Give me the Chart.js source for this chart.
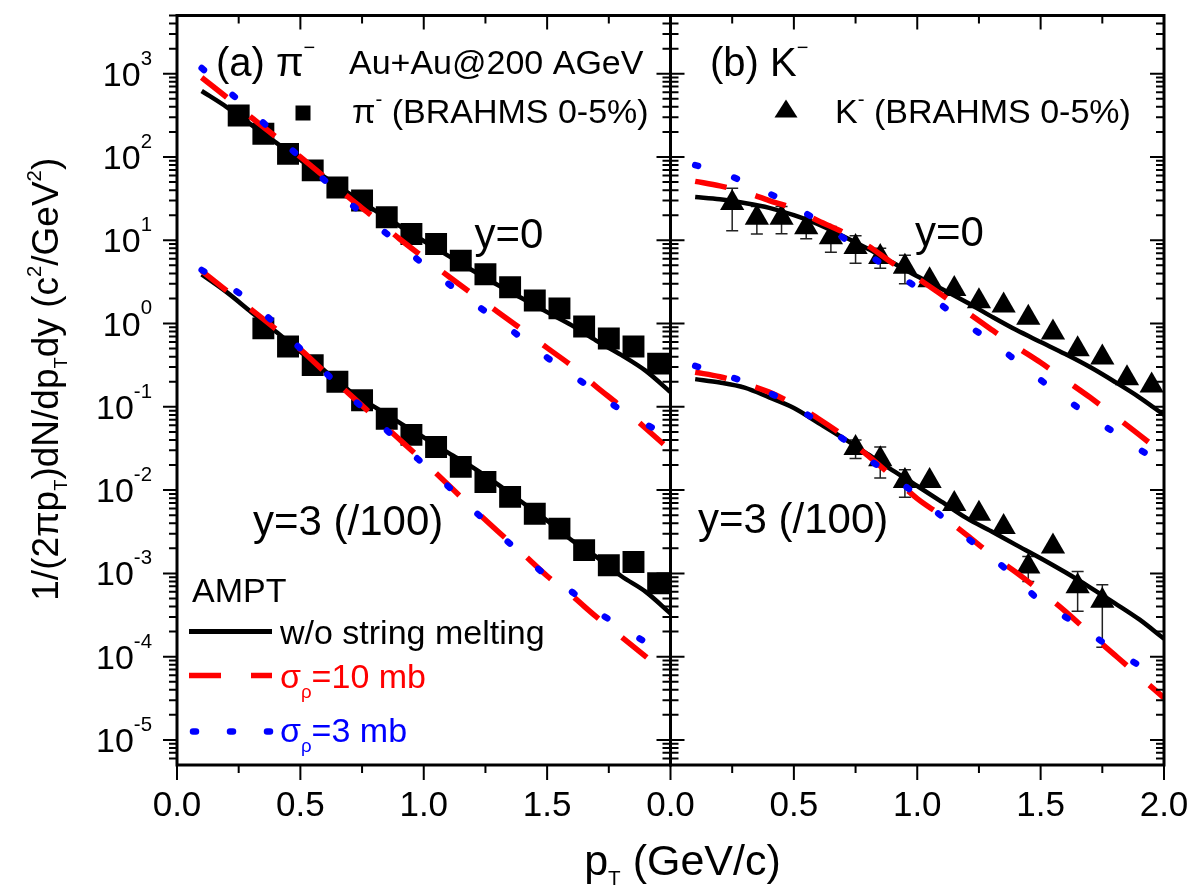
<!DOCTYPE html>
<html>
<head>
<meta charset="utf-8">
<script src="https://cdn.jsdelivr.net/npm/chart.js@4/dist/chart.umd.min.js"></script>
<style>
  html, body { margin: 0; padding: 0; background: #fff; }
  canvas { display: block; }
</style>
</head>
<body>
<canvas id="canvas1" width="1193" height="886"></canvas>
<script>
// axis ranges and tick labels
var xMin = 0, xMax = 2;
var yMin = 5e-6, yMax = 5e3;
var xTickVals = [0, 0.5, 1, 1.5, 2];
var xMinorStep = 0.25;
var yDecades = [-5, -4, -3, -2, -1, 0, 1, 2, 3];

// pT grid of the AMPT curves (GeV/c)
var modelPt = [0.1, 0.2, 0.3, 0.4, 0.5, 0.6, 0.7, 0.8, 0.9, 1.0, 1.1, 1.2, 1.3, 1.4, 1.5, 1.6, 1.7, 1.8, 1.9, 2.0];

// (a) pi-, y=0
var piAmpt0 = [620, 400, 245, 150, 92, 57, 36, 23, 15, 9.8, 6.5, 4.3, 2.9, 2.0, 1.37, 0.95, 0.62, 0.42, 0.27, 0.15];
var piS10_0 = [900, 525, 300, 175, 100, 57, 32, 18.6, 10.5, 6.2, 3.7, 2.24, 1.38, 0.84, 0.51, 0.31, 0.174, 0.1, 0.055, 0.030];
var piS3_0 = [1170, 645, 355, 186, 98, 52, 28, 15.8, 9.1, 5.1, 3.0, 1.78, 1.1, 0.66, 0.39, 0.245, 0.148, 0.091, 0.062, 0.043];
var piPt0 = [0.25, 0.35, 0.45, 0.55, 0.65, 0.75, 0.85, 0.95, 1.05, 1.15, 1.25, 1.35, 1.45, 1.55, 1.65, 1.75, 1.85, 1.95];
var piData0 = [315, 190, 109, 69, 43, 30, 18.9, 11.9, 9.0, 5.7, 3.9, 2.73, 1.89, 1.52, 0.92, 0.66, 0.53, 0.33];

// (a) pi-, y=3 (/100)
var piAmpt3 = [3.9, 2.4, 1.38, 0.8, 0.46, 0.27, 0.155, 0.1, 0.065, 0.043, 0.028, 0.0186, 0.0117, 0.0071, 0.0043, 0.0025, 0.00158, 9.3e-4, 6.0e-4, 3.3e-4];
var piS10_3 = [4.3, 2.5, 1.48, 0.86, 0.49, 0.26, 0.141, 0.076, 0.041, 0.022, 0.0115, 0.006, 0.0032, 0.00174, 9.3e-4, 5.4e-4, 3.0e-4, 1.74e-4, 1.0e-4, 5.7e-5];
var piS3_3 = [4.4, 2.95, 1.8, 0.98, 0.5, 0.26, 0.135, 0.072, 0.038, 0.0204, 0.011, 0.0058, 0.0031, 0.00166, 9.3e-4, 6.0e-4, 3.5e-4, 2.3e-4, 1.48e-4, 1.0e-4];
var piPt3 = [0.35, 0.45, 0.55, 0.65, 0.75, 0.85, 0.95, 1.05, 1.15, 1.25, 1.35, 1.45, 1.55, 1.65, 1.75, 1.85, 1.95];
var piData3 = [0.875, 0.53, 0.317, 0.2, 0.12, 0.072, 0.046, 0.033, 0.019, 0.0125, 0.0083, 0.0052, 0.00345, 0.0019, 0.00125, 0.00137, 0.00076];

// (b) K-, y=0
var kAmpt0 = [33, 31, 28, 24.5, 20, 15.5, 11.2, 7.9, 5.4, 3.7, 2.6, 1.8, 1.22, 0.84, 0.6, 0.43, 0.3, 0.2, 0.13, 0.08];
var kS10_0 = [51, 45, 38, 30, 24, 17, 12.5, 8.6, 5.3, 3.5, 2.2, 1.38, 0.85, 0.53, 0.34, 0.21, 0.13, 0.078, 0.046, 0.027];
var kS3_0 = [80, 66, 50, 36.5, 25.5, 17, 10.7, 6.8, 4.2, 2.7, 1.65, 0.98, 0.61, 0.36, 0.21, 0.126, 0.077, 0.049, 0.031, 0.02];
var kPt0 = [0.25, 0.35, 0.45, 0.55, 0.65, 0.75, 0.85, 0.95, 1.05, 1.15, 1.25, 1.35, 1.45, 1.55, 1.65, 1.75, 1.85, 1.95];
var kData0 = [28, 18.7, 18.7, 14.3, 10.9, 8.3, 6.3, 4.8, 3.3, 2.6, 1.85, 1.65, 1.17, 0.78, 0.49, 0.39, 0.22, 0.18];
var kErrLo0 = [13, 11.9, 12, 10.4, 7.2, 5.3, 4.6, 3.0, null, null, null, null, null, null, null, null, null, null];
var kErrHi0 = [42, 25.5, 25.4, 18.2, 14.6, 11.3, 8.0, 6.6, null, null, null, null, null, null, null, null, null, null];

// (b) K-, y=3 (/100)
var kAmpt3 = [0.215, 0.196, 0.17, 0.13, 0.097, 0.064, 0.042, 0.027, 0.0172, 0.0112, 0.0072, 0.0046, 0.0032, 0.0022, 0.00152, 0.00103, 6.8e-4, 4.4e-4, 2.8e-4, 1.64e-4];
var kS10_3 = [0.26, 0.23, 0.19, 0.15, 0.107, 0.072, 0.045, 0.026, 0.0145, 0.0079, 0.0049, 0.0029, 0.00168, 0.00103, 6.1e-4, 3.5e-4, 1.9e-4, 1.05e-4, 5.8e-5, 3.2e-5];
var kS3_3 = [0.31, 0.25, 0.2, 0.147, 0.104, 0.065, 0.041, 0.024, 0.0145, 0.0086, 0.0048, 0.0027, 0.00158, 8.8e-4, 4.6e-4, 3.0e-4, 1.9e-4, 1.2e-4, 7.8e-5, 5.2e-5];
var kPt3 = [0.75, 0.85, 0.95, 1.05, 1.15, 1.25, 1.35, 1.45, 1.55, 1.65, 1.75];
var kData3 = [0.032, 0.0234, 0.0129, 0.0129, 0.0068, 0.0052, 0.0036, 0.00121, 0.0021, 0.0007, 0.00047];
var kErrLo3 = [0.024, 0.014, 0.0082, null, null, null, null, 0.0008, null, 3.5e-4, 1.3e-4];
var kErrHi3 = [0.04, 0.033, 0.0176, null, null, null, null, 0.0016, null, 1.05e-3, 7.3e-4];

var FONT = '"Liberation Sans", Arial, Helvetica, sans-serif';
var RED = '#ff0000', BLUE = '#0000ff';

function pts(xs, ys) {
    return xs.map(function (x, i) { return {x: x, y: ys[i]}; });
}

function ampt(data, xid) {
    return {data: pts(modelPt, data), xAxisID: xid, yAxisID: 'y', borderColor: '#000', borderWidth: 4.5,
        pointRadius: 0, cubicInterpolationMode: 'monotone', fill: false, order: 3};
}
function sig10(data, xid) {
    return {data: pts(modelPt, data), xAxisID: xid, yAxisID: 'y', borderColor: RED, borderWidth: 5.5,
        borderDash: [32, 30], pointRadius: 0, cubicInterpolationMode: 'monotone', fill: false, order: 2};
}
function sig3(data, xid) {
    return {data: pts(modelPt, data), xAxisID: xid, yAxisID: 'y', borderColor: BLUE, borderWidth: 6.5,
        borderDash: [3, 38], borderCapStyle: 'round', pointRadius: 0, cubicInterpolationMode: 'monotone', fill: false, order: 1};
}
function brahms(xs, ys, xid, style, r) {
    return {data: pts(xs, ys), xAxisID: xid, yAxisID: 'y', showLine: false, pointStyle: style, pointRadius: r,
        backgroundColor: '#000', borderColor: '#000', borderWidth: 0, order: 4};
}

// text with sub/superscripts: parts = [[text, 'n'|'sub'|'sup'], ...]
function drawRich(ctx, parts, x, y, size, color, align, o) {
    o = o || {};
    var supScale = o.supScale || 0.6, subScale = o.subScale || 0.55;
    var supDy = o.supDy != null ? o.supDy : -0.5, subDy = o.subDy != null ? o.subDy : 0.28;
    function sz(k) { return k === 'sup' ? size * supScale : k === 'sub' ? size * subScale : size; }
    var w = 0;
    parts.forEach(function (p) { ctx.font = sz(p[1]) + 'px ' + FONT; w += ctx.measureText(p[0]).width; });
    var cx = align === 'right' ? x - w : align === 'center' ? x - w / 2 : x;
    ctx.fillStyle = color;
    ctx.textAlign = 'left';
    ctx.textBaseline = 'alphabetic';
    parts.forEach(function (p) {
        ctx.font = sz(p[1]) + 'px ' + FONT;
        var dy = p[1] === 'sup' ? supDy * size : p[1] === 'sub' ? subDy * size : 0;
        ctx.fillText(p[0], cx, y + dy);
        cx += ctx.measureText(p[0]).width;
    });
}

var errorBars = {
    id: 'errorBars',
    beforeDatasetsDraw: function (chart) {
        var ctx = chart.ctx, ys = chart.scales.y;
        var sets = [[kPt0, kErrLo0, kErrHi0], [kPt3, kErrLo3, kErrHi3]];
        ctx.save();
        ctx.strokeStyle = '#222';
        ctx.lineWidth = 1.5;
        ctx.beginPath();
        sets.forEach(function (s) {
            s[0].forEach(function (pt, i) {
                if (s[1][i] == null) return;
                var px = chart.scales.x2.getPixelForValue(pt);
                var y1 = ys.getPixelForValue(s[1][i]), y2 = ys.getPixelForValue(s[2][i]);
                ctx.moveTo(px, y1); ctx.lineTo(px, y2);
                ctx.moveTo(px - 6, y1); ctx.lineTo(px + 6, y1);
                ctx.moveTo(px - 6, y2); ctx.lineTo(px + 6, y2);
            });
        });
        ctx.stroke();
        ctx.restore();
    }
};

var frame = {
    id: 'frame',
    afterDatasetsDraw: function (chart) {
        var ctx = chart.ctx, A = chart.chartArea, ys = chart.scales.y;
        var panels = [chart.scales.x1, chart.scales.x2];
        var mid = chart.scales.x2.left;
        ctx.save();
        ctx.strokeStyle = '#000';
        ctx.lineWidth = 2;
        ctx.beginPath();
        for (var d = -6; d <= 3; d++) {
            for (var m = 1; m <= 9; m++) {
                var v = m * Math.pow(10, d);
                if (v < yMin || v > yMax) continue;
                var py = ys.getPixelForValue(v);
                var len = m === 1 ? 14 : 8;
                ctx.moveTo(A.left - len, py); ctx.lineTo(A.left, py);
                ctx.moveTo(mid - len, py); ctx.lineTo(mid + len, py);
                ctx.moveTo(A.right - len, py); ctx.lineTo(A.right, py);
            }
        }
        panels.forEach(function (s) {
            for (var v = xMin; v <= xMax + 1e-9; v += xMinorStep) {
                var px = s.getPixelForValue(v);
                var major = xTickVals.indexOf(v) >= 0;
                ctx.moveTo(px, A.bottom); ctx.lineTo(px, A.bottom + (major ? 15 : 8));
                ctx.moveTo(px, A.top); ctx.lineTo(px, A.top + (major ? 14 : 8));
            }
        });
        ctx.stroke();
        ctx.lineWidth = 3;
        panels.forEach(function (s) {
            ctx.strokeRect(s.left, A.top, s.right - s.left, A.bottom - A.top);
        });

        // y tick labels 10^n
        yDecades.forEach(function (d) {
            var py = ys.getPixelForValue(Math.pow(10, d));
            drawRich(ctx, [['10', 'n'], [String(d), 'sup']], A.left - 25, py + 12, 34, '#000', 'right',
                {supScale: 0.6, supDy: -0.62});
        });

        // axis titles
        drawRich(ctx, [['p', 'n'], ['T', 'sub'], [' (GeV/c)', 'n']], (A.left + A.right) / 2 + 12, A.bottom + 110, 43, '#000', 'center',
            {subScale: 0.48, subDy: 0.24});
        ctx.save();
        ctx.translate(58, (A.top + A.bottom) / 2 - 11);
        ctx.rotate(-Math.PI / 2);
        drawRich(ctx, [['1/(2πp', 'n'], ['T', 'sub'], [')dN/dp', 'n'], ['T', 'sub'], ['dy (c', 'n'], ['2', 'sup'],
            ['/GeV', 'n'], ['2', 'sup'], [')', 'n']], 0, 0, 37, '#000', 'center', {subScale: 0.5, subDy: 0.25, supScale: 0.55, supDy: -0.45});
        ctx.restore();

        // panel (a)
        var L = chart.scales.x1.left, T = A.top;
        drawRich(ctx, [['(a) π', 'n'], ['−', 'sup']], L + 39, T + 60, 40, '#000', 'left', {supDy: -0.55, supScale: 0.5});
        drawRich(ctx, [['Au+Au@200 AGeV', 'n']], L + 172, T + 58, 34, '#000', 'left');
        ctx.fillStyle = '#000';
        ctx.fillRect(L + 118.5, T + 90, 15, 15);
        drawRich(ctx, [['π', 'n'], ['-', 'sup'], [' (BRAHMS 0-5%)', 'n']], L + 175, T + 107, 34, '#000', 'left');
        drawRich(ctx, [['y=0', 'n']], L + 297.5, T + 232, 42, '#000', 'left');
        drawRich(ctx, [['y=3 (/100)', 'n']], L + 76, T + 519, 42, '#000', 'left');
        drawRich(ctx, [['AMPT', 'n']], L + 15, T + 586, 34, '#000', 'left');

        ctx.lineWidth = 5;
        ctx.strokeStyle = '#000';
        ctx.beginPath(); ctx.moveTo(L + 12, T + 616); ctx.lineTo(L + 95, T + 616); ctx.stroke();
        drawRich(ctx, [['w/o string melting', 'n']], L + 103, T + 628, 34, '#000', 'left');

        ctx.lineWidth = 5.5;
        ctx.strokeStyle = RED;
        ctx.setLineDash([32, 30]);
        ctx.beginPath(); ctx.moveTo(L + 12, T + 660); ctx.lineTo(L + 95, T + 660); ctx.stroke();
        drawRich(ctx, [['σ', 'n'], ['ρ', 'sub'], ['=10 mb', 'n']], L + 103, T + 672, 34, RED, 'left', {subDy: 0.3});

        ctx.lineWidth = 6.5;
        ctx.strokeStyle = BLUE;
        ctx.lineCap = 'round';
        ctx.setLineDash([3, 34]);
        ctx.beginPath(); ctx.moveTo(L + 16, T + 716); ctx.lineTo(L + 95, T + 716); ctx.stroke();
        ctx.setLineDash([]);
        ctx.lineCap = 'butt';
        drawRich(ctx, [['σ', 'n'], ['ρ', 'sub'], ['=3 mb', 'n']], L + 103, T + 726, 34, BLUE, 'left', {subDy: 0.3});

        // panel (b)
        var R = chart.scales.x2.left;
        drawRich(ctx, [['(b) K', 'n'], ['−', 'sup']], R + 39.5, T + 60, 40, '#000', 'left', {supDy: -0.55, supScale: 0.5});
        ctx.fillStyle = '#000';
        ctx.beginPath();
        ctx.moveTo(R + 115.5, T + 84); ctx.lineTo(R + 127, T + 102); ctx.lineTo(R + 104, T + 102);
        ctx.closePath(); ctx.fill();
        drawRich(ctx, [['K', 'n'], ['-', 'sup'], [' (BRAHMS 0-5%)', 'n']], R + 164.5, T + 107, 34, '#000', 'left');
        drawRich(ctx, [['y=0', 'n']], R + 244.5, T + 230, 42, '#000', 'left');
        drawRich(ctx, [['y=3 (/100)', 'n']], R + 27.5, T + 517, 42, '#000', 'left');
        ctx.restore();
    }
};

function xAxis(id) {
    return {
        type: 'linear', position: 'bottom', stack: 'pt', stackWeight: 1,
        min: xMin, max: xMax,
        // tick marks are drawn by the frame plugin; tickLength only sets the label offset
        grid: {display: false, drawTicks: true, tickLength: 20},
        border: {display: false},
        ticks: {
            stepSize: 0.5, autoSkip: false, maxRotation: 0, padding: 0, color: '#000',
            font: {family: FONT, size: 35},
            callback: function (value) {
                if (id === 'x1' && value === xMax) return '';
                return xTickVals.indexOf(value) >= 0 ? value.toFixed(1) : '';
            }
        },
        afterFit: function (s) { s.height = 121; }
    };
}

var ctx = document.getElementById('canvas1').getContext('2d');
var chart = new Chart(ctx, {
    type: 'line',
    data: {
        datasets: [
            brahms(piPt0, piData0, 'x1', 'rect', 15.5),
            brahms(piPt3, piData3, 'x1', 'rect', 15.5),
            ampt(piAmpt0, 'x1'), ampt(piAmpt3, 'x1'),
            sig10(piS10_0, 'x1'), sig10(piS10_3, 'x1'),
            sig3(piS3_0, 'x1'), sig3(piS3_3, 'x1'),
            brahms(kPt0, kData0, 'x2', 'triangle', 14),
            brahms(kPt3, kData3, 'x2', 'triangle', 14),
            ampt(kAmpt0, 'x2'), ampt(kAmpt3, 'x2'),
            sig10(kS10_0, 'x2'), sig10(kS10_3, 'x2'),
            sig3(kS3_0, 'x2'), sig3(kS3_3, 'x2')
        ]
    },
    options: {
        responsive: false,
        devicePixelRatio: 1,
        animation: false,
        events: [],
        layout: {padding: {left: 0, right: 29, top: 8, bottom: 0}},
        plugins: {legend: {display: false}, tooltip: {enabled: false}},
        scales: {
            x1: xAxis('x1'),
            x2: xAxis('x2'),
            y: {
                type: 'logarithmic', position: 'left', min: yMin, max: yMax,
                grid: {display: false, drawTicks: false},
                border: {display: false},
                ticks: {display: false},
                afterFit: function (s) { s.width = 177; }
            }
        }
    },
    plugins: [errorBars, frame]
});
</script>
</body>
</html>
